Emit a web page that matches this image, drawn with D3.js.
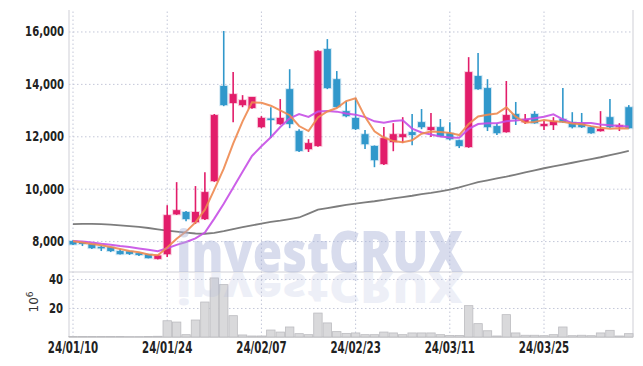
<!DOCTYPE html>
<html>
<head>
<meta charset="utf-8">
<script src="https://cdn.jsdelivr.net/npm/d3@7/dist/d3.min.js"></script>
<style>
  body { margin: 0; background: #fff; }
  .tick text { font-family: "DejaVu Sans Condensed", "DejaVu Sans", sans-serif; font-weight: bold; fill: #222; }
  .grid line { stroke: #c3c7d8; stroke-dasharray: 1.5, 2.5; }
</style>
</head>
<body>
<svg width="643" height="366"></svg>
<script>
// trading days shown
var dates = [
  "24/01/10","24/01/11","24/01/12","24/01/15","24/01/16","24/01/17","24/01/18","24/01/19","24/01/22","24/01/23",
  "24/01/24","24/01/25","24/01/26","24/01/29","24/01/30","24/01/31","24/02/01","24/02/02","24/02/05","24/02/06",
  "24/02/07","24/02/08","24/02/13","24/02/14","24/02/15","24/02/16","24/02/19","24/02/20","24/02/21","24/02/22",
  "24/02/23","24/02/26","24/02/27","24/02/28","24/02/29","24/03/04","24/03/05","24/03/06","24/03/07","24/03/08",
  "24/03/11","24/03/12","24/03/13","24/03/14","24/03/15","24/03/18","24/03/19","24/03/20","24/03/21","24/03/22",
  "24/03/25","24/03/26","24/03/27","24/03/28","24/03/29","24/04/01","24/04/02","24/04/03","24/04/04","24/04/05"
];

var opens = [8000,7960,7890,7780,7770,7620,7610,7540,7500,7320,
  7500,9020,9110,8720,8840,10290,13920,13270,13190,13080,
  12350,12680,12470,13800,12200,11510,11630,15330,14180,12960,
  12700,12080,11630,10940,11780,11970,12160,12540,12240,12350,
  12120,11850,11590,14300,13840,12390,12160,12850,12540,12850,
  12390,12430,12660,12540,12500,12350,12200,12730,12350,13110];
var highs = [8030,7970,7900,7830,7780,7700,7620,7550,7510,7470,
  9370,10250,9150,10100,10630,12850,16020,14450,13570,13500,
  12770,13110,13420,14560,12270,11890,15280,15710,14490,13340,
  13460,12240,11650,12350,12500,12730,12850,13040,12890,12660,
  12540,11870,15020,15180,14180,12500,14110,13310,12850,12960,
  12580,12730,13840,12920,12890,12360,12960,13420,12500,13190];
var lows = [7850,7810,7700,7620,7580,7490,7470,7430,7340,7300,
  7390,9000,8760,8650,8800,10260,13150,12540,13110,13050,
  12310,11930,12440,12310,11400,11400,11600,13800,13100,12730,
  12240,11510,10820,10900,11430,11740,11660,12270,11970,11970,
  11850,11550,11560,13780,12200,12050,12140,12430,12470,12480,
  12240,12240,12520,12300,12320,12100,12180,12320,12200,12290];
var closes = [7870,7890,7730,7760,7620,7500,7510,7470,7350,7450,
  8990,9180,8840,9110,9870,12810,13190,13610,13380,13500,
  12700,12650,12700,12470,11440,11740,15250,13840,13120,12770,
  12280,11700,11090,11930,12080,12080,12050,12350,12350,12010,
  11890,11630,14450,13800,12350,12120,12810,12660,12660,12500,
  12470,12580,12540,12350,12350,12120,12280,12350,12430,12310];

// moving averages
var ma5 = [7990,7950,7890,7840,7774,7700,7624,7572,7490,7456,
  7754,8088,8362,8714,9198,9962,10764,11718,12572,13298,
  13276,13168,12986,12804,12392,12200,12720,12948,13078,13344,
  13452,12742,12192,11954,11816,11776,11846,12098,12182,12168,
  12130,12046,12466,12756,12824,12870,13106,12748,12520,12550,
  12620,12574,12550,12488,12458,12388,12328,12290,12306,12298];
var ma10 = [8000,7980,7950,7900,7860,7810,7770,7720,7670,7615,
  7727,7856,7967,8102,8327,8858,9426,10040,10643,11248,
  11619,11966,12352,12688,12845,12738,12944,12967,12941,12868,
  12826,12731,12570,12516,12580,12614,12294,12145,12068,11992,
  11953,11946,12282,12469,12496,12500,12576,12607,12638,12687,
  12745,12840,12649,12504,12504,12504,12451,12420,12397,12378];
var ma60 = [8650,8660,8660,8650,8630,8600,8570,8540,8500,8450,
  8400,8360,8320,8290,8280,8310,8380,8460,8530,8600,
  8670,8730,8780,8840,8900,9050,9200,9260,9320,9380,
  9430,9480,9520,9570,9630,9680,9730,9790,9840,9900,
  9960,10050,10150,10250,10320,10390,10460,10540,10620,10700,
  10780,10850,10920,10990,11060,11130,11200,11280,11360,11440];

// volume, millions of shares
var volumes = [0.4,0.3,0.3,0.3,0.3,0.3,0.2,0.2,0.3,0.5,
  11.2,10.3,1.6,11.7,24.1,40.7,36.1,14.7,1.4,0.7,
  0.7,4.8,3.4,6.9,2.3,1.6,16.5,9.7,3.7,2.5,
  2.8,1.6,1.6,3.4,2.8,1.6,2.8,2.8,2.8,1.6,
  1.1,1.1,21.6,9.2,4.3,0.7,15.4,2.8,1.2,1.2,
  0.9,1.6,6.9,0.9,1.2,0.9,2.8,4.6,0.7,2.3];

var priceTicks = [8000, 10000, 12000, 14000, 16000];
var volumeTicks = [20, 40];
var dateTicks = ["24/01/10","24/01/24","24/02/07","24/02/23","24/03/11","24/03/25"];

var svg = d3.select("svg");
var pLeft = 69, pRight = 633, pTop = 10, pSplit = 272, pBottom = 337;
var upColor = "#e21d6a", downColor = "#3198cb";

var x = d3.scaleBand().domain(dates).range([68.3, 633.5]);
var cx = function (d) { return x(d) + x.bandwidth() / 2; };
var y = d3.scaleLinear().domain([6820, 16820]).range([pSplit, pTop]);
var yVol = d3.scaleLinear().domain([0, 44.8]).range([pBottom, pSplit]);

// squeeze tick text to the narrow face of the original
function narrow(g, size, k) {
  g.select(".domain").remove();
  g.selectAll("text").attr("font-size", size).each(function () {
    var w = this.getComputedTextLength();
    d3.select(this).attr("textLength", w * k).attr("lengthAdjust", "spacingAndGlyphs");
  });
}

// grids
svg.append("g").attr("class", "grid")
  .attr("transform", "translate(" + pLeft + ",0)")
  .call(d3.axisLeft(y).tickValues(priceTicks).tickSize(-(pRight - pLeft)).tickFormat(""))
  .call(function (g) { g.select(".domain").remove(); });
svg.append("g").attr("class", "grid")
  .attr("transform", "translate(" + pLeft + ",0)")
  .call(d3.axisLeft(yVol).tickValues(volumeTicks).tickSize(-(pRight - pLeft)).tickFormat(""))
  .call(function (g) { g.select(".domain").remove(); });
svg.append("g").attr("class", "grid")
  .attr("transform", "translate(0," + pBottom + ")")
  .call(d3.axisBottom(x).tickValues(dateTicks).tickSize(-(pBottom - pTop)).tickFormat(""))
  .call(function (g) { g.select(".domain").remove(); });

// frame
var frame = svg.append("g").attr("stroke", "#cfcfd6").attr("stroke-width", 1);
frame.append("line").attr("x1", pLeft).attr("x2", pLeft).attr("y1", pTop).attr("y2", pBottom);
frame.append("line").attr("x1", pRight).attr("x2", pRight).attr("y1", pTop).attr("y2", pBottom);
frame.append("line").attr("x1", pLeft).attr("x2", pRight).attr("y1", pSplit).attr("y2", pSplit);
frame.append("line").attr("x1", pLeft).attr("x2", pRight).attr("y1", pBottom).attr("y2", pBottom).attr("stroke", "#b5b5b5");

// volume bars
svg.append("g").selectAll("rect")
  .data(volumes)
  .enter()
  .append("rect")
  .attr("x", function (d, i) { return x(dates[i]) + 0.5; })
  .attr("width", x.bandwidth() - 1)
  .attr("y", function (d) { return yVol(d); })
  .attr("height", function (d) { return pBottom - yVol(d); })
  .attr("fill", "#d9d9db")
  .attr("stroke", "#bcbcc0")
  .attr("stroke-width", 0.8);

// long average under the candles
var line = function (vals) {
  return d3.line().x(function (d, i) { return cx(dates[i]); }).y(function (d) { return y(d); })(vals);
};
svg.append("path").attr("d", line(ma60)).attr("fill", "none")
  .attr("stroke", "#7d7d7d").attr("stroke-width", 1.8);

var candles = svg.append("g").selectAll("g")
  .data(dates)
  .enter()
  .append("g");

function col(i) { return closes[i] >= opens[i] ? upColor : downColor; }

candles.append("line")
  .attr("x1", function (d) { return cx(d); })
  .attr("x2", function (d) { return cx(d); })
  .attr("y1", function (d, i) { return y(highs[i]); })
  .attr("y2", function (d, i) { return y(lows[i]); })
  .attr("stroke", function (d, i) { return col(i); })
  .attr("stroke-width", 1.6);

candles.append("rect")
  .attr("x", function (d) { return cx(d) - 4.5; })
  .attr("width", 9)
  .attr("y", function (d, i) { return y(Math.max(opens[i], closes[i])) - 1; })
  .attr("height", function (d, i) { return Math.max(1.5, Math.abs(y(opens[i]) - y(closes[i]))) + 2; })
  .attr("fill", function (d, i) { return col(i); })
  .attr("opacity", 0.22);

candles.append("rect")
  .attr("x", function (d) { return cx(d) - 3.5; })
  .attr("width", 7)
  .attr("y", function (d, i) { return y(Math.max(opens[i], closes[i])); })
  .attr("height", function (d, i) { return Math.max(1.5, Math.abs(y(opens[i]) - y(closes[i]))); })
  .attr("fill", function (d, i) { return col(i); });

svg.append("path").attr("d", line(ma10)).attr("fill", "none")
  .attr("stroke", "#c64fe6").attr("stroke-width", 2).attr("opacity", 0.9);
svg.append("path").attr("d", line(ma5)).attr("fill", "none")
  .attr("stroke", "#ee8950").attr("stroke-width", 2).attr("opacity", 0.9);

// watermark and its reflection
svg.append("text").attr("x", 176).attr("y", 272)
  .attr("textLength", 287).attr("lengthAdjust", "spacingAndGlyphs")
  .attr("font-family", "'Open Sans', sans-serif").attr("font-weight", 800).attr("font-size", 56)
  .attr("fill", "#a9b3d9").attr("opacity", 0.45)
  .text("investCRUX");
svg.append("clipPath").attr("id", "volclip")
  .append("rect").attr("x", pLeft).attr("y", pSplit).attr("width", pRight - pLeft).attr("height", pBottom - pSplit);
svg.append("g").attr("clip-path", "url(#volclip)")
  .append("text")
  .attr("transform", "translate(0," + (pSplit + 1) + ") scale(1,-0.75) translate(0," + (-(pSplit + 1)) + ")")
  .attr("x", 176).attr("y", pSplit + 1)
  .attr("textLength", 287).attr("lengthAdjust", "spacingAndGlyphs")
  .attr("font-family", "'Open Sans', sans-serif").attr("font-weight", 800).attr("font-size", 56)
  .attr("fill", "#a9b3d9").attr("opacity", 0.2)
  .text("investCRUX");

// axes labels
svg.append("g")
  .attr("transform", "translate(" + pLeft + ",0)")
  .call(d3.axisLeft(y).tickValues(priceTicks).tickFormat(d3.format(",")).tickSize(0).tickPadding(5))
  .call(function (g) { narrow(g, 14, 0.8); });
svg.append("g")
  .attr("transform", "translate(" + pLeft + ",0)")
  .call(d3.axisLeft(yVol).tickValues(volumeTicks).tickSize(0).tickPadding(6))
  .call(function (g) { narrow(g, 14, 0.8); });
svg.append("g")
  .attr("transform", "translate(0," + pBottom + ")")
  .call(d3.axisBottom(x).tickValues(dateTicks).tickSize(0).tickPadding(5))
  .call(function (g) { narrow(g, 15, 0.76); });

var unit = svg.append("text")
  .attr("transform", "translate(38,302) rotate(-90)")
  .attr("text-anchor", "middle")
  .attr("font-family", "'DejaVu Sans', sans-serif").attr("font-size", 12).attr("fill", "#333");
unit.append("tspan").text("10");
unit.append("tspan").attr("dy", -5).attr("font-size", 9).text("6");
</script>
</body>
</html>
